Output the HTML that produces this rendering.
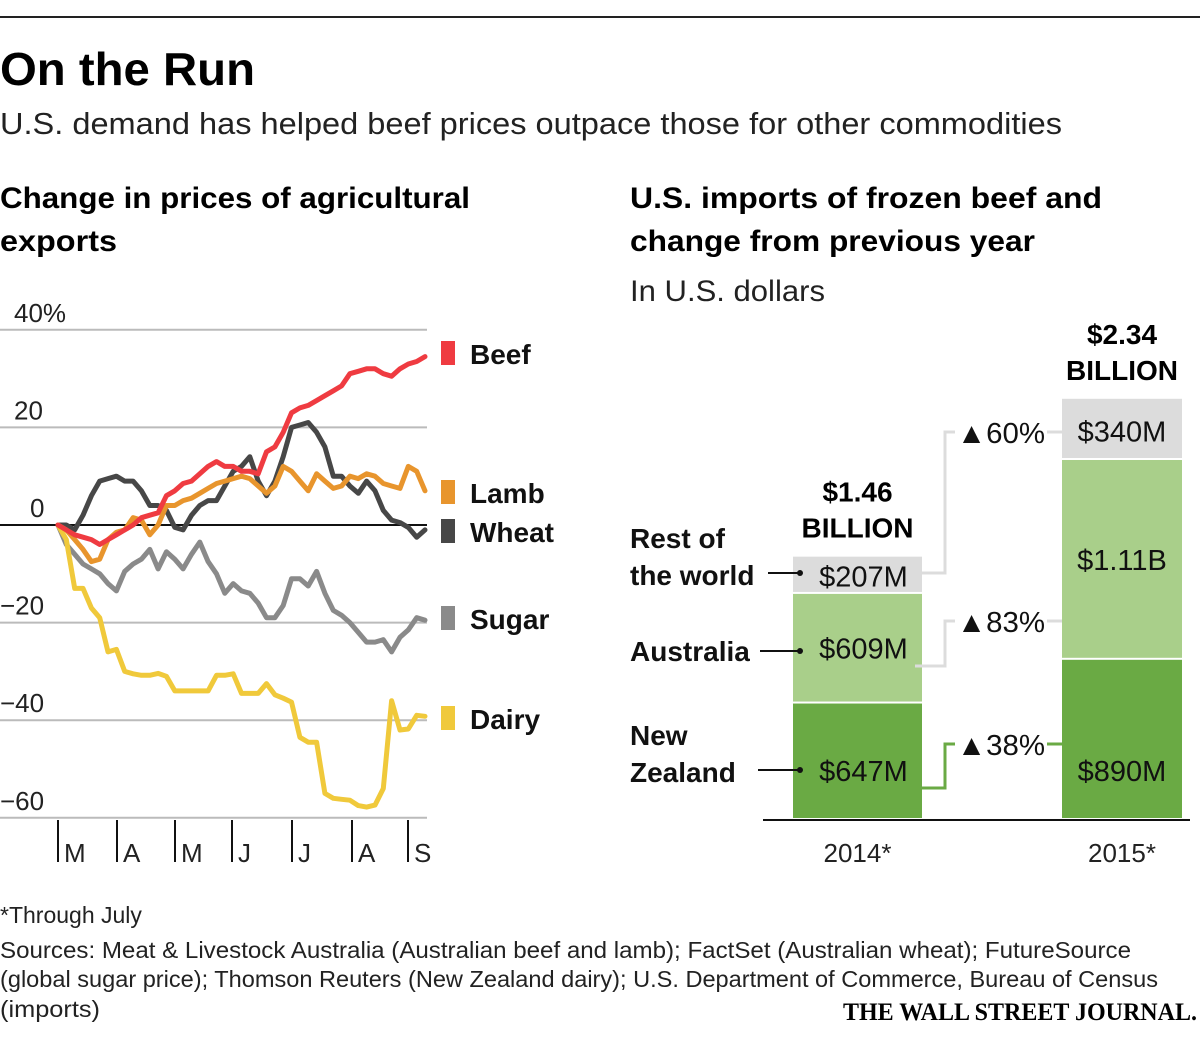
<!DOCTYPE html>
<html><head><meta charset="utf-8"><style>
html,body{margin:0;padding:0;background:#fff;}
svg{display:block;font-family:"Liberation Sans",sans-serif;}
</style></head><body>
<svg id="chart" width="1200" height="1038" viewBox="0 0 1200 1038">
<line x1="0" y1="17" x2="1200" y2="17" stroke="#222" stroke-width="2"/>
<text x="0" y="85" font-size="46" font-weight="bold" textLength="255" lengthAdjust="spacingAndGlyphs">On the Run</text>
<text x="0" y="134" font-size="31" fill="#222" textLength="1062" lengthAdjust="spacingAndGlyphs">U.S. demand has helped beef prices outpace those for other commodities</text>
<text x="0" y="208" font-size="30" font-weight="bold" textLength="470" lengthAdjust="spacingAndGlyphs">Change in prices of agricultural</text>
<text x="0" y="251" font-size="30" font-weight="bold" textLength="117" lengthAdjust="spacingAndGlyphs">exports</text>
<text x="630" y="208" font-size="30" font-weight="bold" textLength="472" lengthAdjust="spacingAndGlyphs">U.S. imports of frozen beef and</text>
<text x="630" y="251" font-size="30" font-weight="bold" textLength="405" lengthAdjust="spacingAndGlyphs">change from previous year</text>
<text x="630" y="301" font-size="30" fill="#222" textLength="195" lengthAdjust="spacingAndGlyphs">In U.S. dollars</text>
<g id="line-chart"></g>
<g id="bar-chart"></g>
<text x="0" y="923" font-size="23" fill="#222">*Through July</text>
<text x="0" y="958" font-size="23" fill="#222" textLength="1131" lengthAdjust="spacingAndGlyphs">Sources: Meat &amp; Livestock Australia (Australian beef and lamb); FactSet (Australian wheat); FutureSource</text>
<text x="0" y="987" font-size="23" fill="#222" textLength="1158" lengthAdjust="spacingAndGlyphs">(global sugar price); Thomson Reuters (New Zealand dairy); U.S. Department of Commerce, Bureau of Census</text>
<text x="0" y="1017" font-size="23" fill="#222" textLength="100" lengthAdjust="spacingAndGlyphs">(imports)</text>
<text x="843" y="1020" font-size="25" font-weight="bold" font-family="Liberation Serif, serif" textLength="354" lengthAdjust="spacingAndGlyphs">THE WALL STREET JOURNAL.</text>
</svg>
<script>
// ---- line chart data ----
const monthLabels = ["M","A","M","J","J","A","S"];
const yTicks = [40,20,0,-20,-40,-60];
const yTickLabels = ["40%","20","0","\u221220","\u221240","\u221260"];
const beefValues = [0,-1,-2,-2.5,-3,-4,-3,-2,-1,0,1.5,2,2.5,6,7,8.5,9,10.5,12,13,12,12,11,11,10.5,15,16,19,23,24,24.5,25.5,26.5,27.5,28.5,31,31.5,32,32,31,30.5,32,33,33.5,34.5];
const wheatValues = [0,0,-1,2,6,9,9.5,10,9,9,7,4,4,3,-0.5,-1,2,4,5,5,8,11,12,14,9,6,9,14,20,20.5,21,19,16,10,10,8,6.5,9,7,3,1,0.5,-0.5,-2.5,-1];
const lambValues = [0,-1,-3,-5,-7.5,-7,-3,-1.5,-1,1.5,1,-2,0,4,4,5,5.5,6.5,7.5,8.5,9,9.5,10,9.5,8,6.5,8,12,11,9,7,10.5,9,7.5,8,10,9.5,10.5,10,8.5,8,7.5,12,11,7];
const sugarValues = [0,-4,-6,-8,-9,-10,-12,-13.5,-9.5,-8,-7,-5,-9,-5.5,-7,-9,-6,-3.5,-7.5,-10,-14,-12,-13.5,-14,-16,-19,-19,-16.5,-11,-11,-12.5,-9.5,-14,-17.5,-18.5,-20,-22,-24,-24,-23.5,-26,-23,-21.5,-19,-19.5];
const dairyValues = [0,-3,-13,-13,-17,-19,-26,-25.5,-30,-30.5,-30.8,-30.8,-30.4,-31,-34,-34,-34,-34,-34,-30.8,-30.8,-30.5,-34.5,-34.5,-34.5,-32.5,-34.8,-35.5,-36.3,-43.5,-44.5,-44.5,-55,-56,-56.2,-56.4,-57.5,-57.8,-57.4,-54,-36,-42,-41.8,-39,-39.2];
const seriesNames = ["Wheat","Sugar","Dairy","Lamb","Beef"];
// ---- bar chart data ----
const barYears = ["2014*","2015*"];
const barTotals = ["$1.46","$2.34"];
const nzValues = [0.647,0.890];
const ausValues = [0.609,1.11];
const restValues = [0.207,0.340];
const nzLabels = ["$647M","$890M"];
const ausLabels = ["$609M","$1.11B"];
const restLabels = ["$207M","$340M"];
const changeLabels = ["\u25B238%","\u25B283%","\u25B260%"];

const NS="http://www.w3.org/2000/svg";
function mk(tag,attrs,parent,txt){const e=document.createElementNS(NS,tag);for(const k in attrs)e.setAttribute(k,attrs[k]);if(txt!==undefined)e.textContent=txt;parent.appendChild(e);return e;}

const lc=document.getElementById('line-chart');
const X0=58,X1=425,Y0=525,PX_PER=4.88;
const yS=v=>Y0-v*PX_PER;
const xS=(i,n)=>X0+i*(X1-X0)/(n-1);
yTicks.forEach((t,i)=>{
  const g=mk('line',{x1:0,x2:427,y1:yS(t),y2:yS(t),stroke:t===0?'#111':'#bbb','stroke-width':2},lc);
  
  
  const lbl=mk('text',{x:t===0?30:(t>0?14:0),y:yS(t)-8,'font-size':26,fill:'#222'},lc,yTickLabels[i]);
  
  
});
const monthX=[58,117,175,232,292,352,408];
monthLabels.forEach((m,i)=>{
  const tk=mk('line',{x1:monthX[i],x2:monthX[i],y1:820,y2:862,stroke:'#111','stroke-width':2},lc);
  
  
  const t=mk('text',{x:monthX[i]+6,y:862,'font-size':26,fill:'#222'},lc,m);
  
  
});
const seriesData={Beef:beefValues,Wheat:wheatValues,Lamb:lambValues,Sugar:sugarValues,Dairy:dairyValues};
const seriesColor={Beef:'#ef3b41',Wheat:'#474747',Lamb:'#e8952d',Sugar:'#8a8a8a',Dairy:'#f0c93b'};
seriesNames.forEach(name=>{
  const vals=seriesData[name];
  const d=vals.map((v,i)=>(i?'L':'M')+xS(i,vals.length).toFixed(1)+','+yS(v).toFixed(1)).join('');
  const p=mk('path',{d:d,fill:'none',stroke:seriesColor[name],'stroke-width':5,'stroke-linejoin':'round','stroke-linecap':'round'},lc);
  
  
});
const legendY={Beef:341,Lamb:480,Wheat:519,Sugar:606,Dairy:706};
["Beef","Lamb","Wheat","Sugar","Dairy"].forEach(name=>{
  const r=mk('rect',{x:441,y:legendY[name],width:14,height:24,fill:seriesColor[name]},lc);
  
  
  const t=mk('text',{x:470,y:legendY[name]+23,'font-size':28,'font-weight':'bold',fill:'#111'},lc,name);
  
  
});

const bc=document.getElementById('bar-chart');
const BASE=819,PXB=180;
const barX=[793,1062],barW=[129,120];
const segColors=['#6aaa44','#a9cf8a','#dcdcdc'];
const segVals=[nzValues,ausValues,restValues];
const segLbls=[nzLabels,ausLabels,restLabels];
const segNames=['new-zealand','australia','rest-of-world'];
const segMid=[[],[],[]],segTop=[[],[],[]];
barYears.forEach((yr,b)=>{
  let acc=0;
  segVals.forEach((arr,s)=>{
    const y1=BASE-acc*PXB, y2=BASE-(acc+arr[b])*PXB;
    const r=mk('rect',{x:barX[b],y:y2+1,width:barW[b],height:Math.max(0,y1-y2-2),fill:segColors[s]},bc);
    
    
    segMid[s][b]=(y1+y2)/2;segTop[s][b]=y2;
    acc+=arr[b];
  });
  const ax=mk('text',{x:barX[b]+barW[b]/2,y:862,'font-size':26,fill:'#222','text-anchor':'middle'},bc,yr);
  
  
  const tt=mk('text',{x:barX[b]+barW[b]/2,y:segTop[2][b]-54,'font-size':28,'font-weight':'bold','text-anchor':'middle'},bc,barTotals[b]);
  
  
  const tb=mk('text',{x:barX[b]+barW[b]/2,y:segTop[2][b]-18,'font-size':28,'font-weight':'bold','text-anchor':'middle'},bc,'BILLION');
  
  
});
const lbOffset=[[11,11],[11,11],[12,13]];
segVals.forEach((arr,s)=>{
  arr.forEach((v,b)=>{
    let y=segMid[s][b]+lbOffset[s][b];
    if(s===0) y=781;
    const t=mk('text',{x:barX[b]+barW[b]/2+(b?0:6),y:y,'font-size':29,fill:'#111','text-anchor':'middle'},bc,segLbls[s][b]);
    
    
  });
});
const catTexts=[["New","Zealand"],["Australia"],["Rest of","the world"]];
const catLineY=[770,651,573];
catTexts.forEach((lines,s)=>{
  const ly=catLineY[s];
  lines.forEach((ln,k)=>{
    const by = lines.length===1 ? ly+10 : ly+12-(lines.length-1-k)*37;
    const t=mk('text',{x:630,y:by,'font-size':28,'font-weight':'bold',fill:'#111'},bc,ln);
    
    
  });
  const x0=s===1?760:(s===0?758:768);
  const l=mk('line',{x1:x0,x2:800,y1:ly,y2:ly,stroke:'#111','stroke-width':2},bc);
  
  
  const c=mk('circle',{cx:800,cy:ly,r:3,fill:'#111'},bc);
  
  
});
const connColor=['#6aaa44','#dcdcdc','#dcdcdc'];
const connStartY=[788,666,573];
segVals.forEach((arr,s)=>{
  const yA=connStartY[s], yB=(s===2)?432:(s===1?621:744);
  const p=mk('path',{d:`M${s===1?915:922},${yA}H945V${yB}H955`,fill:'none',stroke:connColor[s],'stroke-width':3},bc);
  
  
  const p2=mk('line',{x1:1047,x2:1062,y1:yB,y2:yB,stroke:connColor[s],'stroke-width':3},bc);
  
  
  const t=mk('text',{x:957,y:yB+11,'font-size':29,fill:'#111',textLength:88,lengthAdjust:'spacingAndGlyphs'},bc,changeLabels[s]);
  
  
});
const base=mk('line',{x1:763,x2:1190,y1:BASE+1,y2:BASE+1,stroke:'#111','stroke-width':2},bc);


</script>
</body></html>
